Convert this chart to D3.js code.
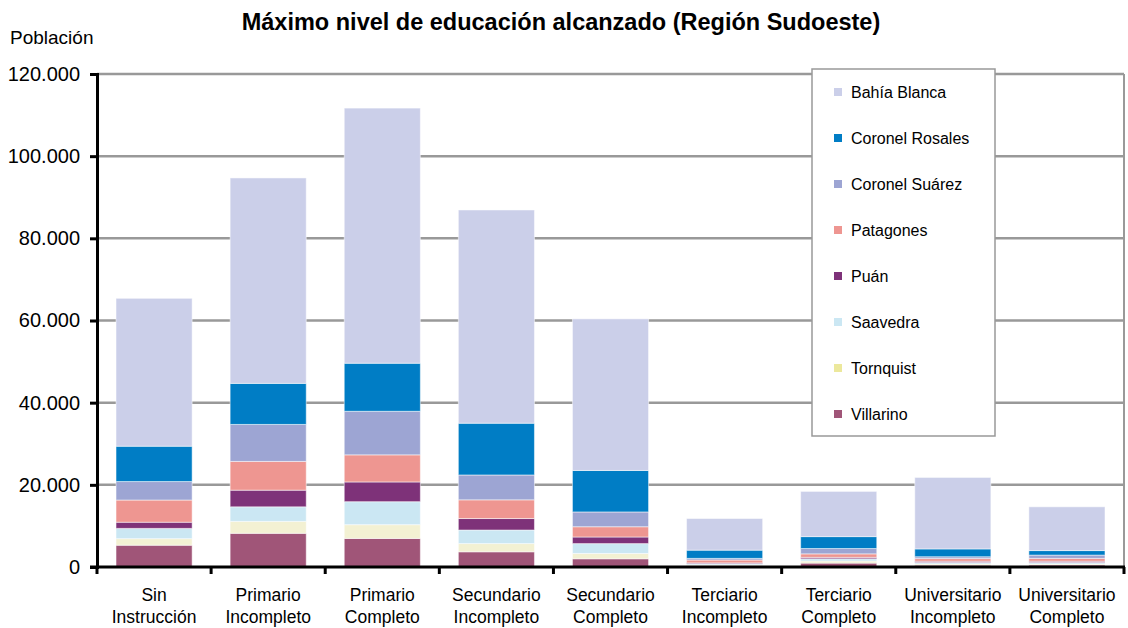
<!DOCTYPE html>
<html lang="es">
<head>
<meta charset="UTF-8">
<title>Máximo nivel de educación alcanzado</title>
<script src="https://d3js.org/d3.v7.min.js"></script>
<style>
  body { margin: 0; background: #fff; }
  svg text { font-family: "Liberation Sans", Arial, sans-serif; fill: #000; }
</style>
</head>
<body>
<svg id="chart" width="1128" height="628"></svg>
<script>
// categories (two-line labels)
const categories = [
  ["Sin", "Instrucción"],
  ["Primario", "Incompleto"],
  ["Primario", "Completo"],
  ["Secundario", "Incompleto"],
  ["Secundario", "Completo"],
  ["Terciario", "Incompleto"],
  ["Terciario", "Completo"],
  ["Universitario", "Incompleto"],
  ["Universitario", "Completo"]
];

// series, stacked from bottom to top
const seriesNames = ["Villarino", "Tornquist", "Saavedra", "Puán", "Patagones", "Coronel Suárez", "Coronel Rosales", "Bahía Blanca"];
const seriesColors = ["#a05578", "#f3f1d3", "#cbe7f3", "#7e3279", "#ee9691", "#9da5d3", "#007dc5", "#cbcfe9"];
const legendColors = ["#a05578", "#ece89c", "#cbe7f3", "#7e3279", "#ee9691", "#9da5d3", "#007dc5", "#cbcfe9"];

const villarino      = [5300, 8200, 6950, 3700, 2000, 350, 950, 450, 500];
const tornquist      = [1600, 2900, 3350, 2000, 1300, 150, 500, 300, 250];
const saavedra       = [2500, 3550, 5600, 3300, 2400, 300, 550, 350, 350];
const puan           = [1500, 4050, 4800, 2800, 1600, 200, 350, 300, 300];
const patagones      = [5400, 7000, 6600, 4550, 2500, 700, 850, 650, 700];
const coronelSuarez  = [4500, 9000, 10600, 6050, 3600, 400, 1300, 450, 800];
const coronelRosales = [8600, 10000, 11700, 12600, 10100, 2000, 2900, 1900, 1100];
const bahiaBlanca    = [36000, 50000, 62100, 51900, 36900, 7700, 11000, 17400, 10650];

const yTicks = [0, 20000, 40000, 60000, 80000, 100000, 120000];

const seriesValues = [villarino, tornquist, saavedra, puan, patagones, coronelSuarez, coronelRosales, bahiaBlanca];

// table for d3.stack
const rows = categories.map((c, i) => {
  const r = { idx: i };
  seriesNames.forEach((s, j) => r[s] = seriesValues[j][i]);
  return r;
});

const svg = d3.select("#chart");
const x0 = 97, x1 = 1124, yTop = 74, yBot = 567;

const x = d3.scaleBand()
  .domain(d3.range(categories.length))
  .range([x0, x1])
  .paddingInner(0.333)
  .paddingOuter(0.1667);
const step = (x1 - x0) / categories.length;

const y = d3.scaleLinear().domain([0, 120000]).range([yBot, yTop]);

const es = d3.formatLocale({ decimal: ",", thousands: ".", grouping: [3], currency: ["$", ""] });
const fmt = es.format(",");

// gridlines
svg.append("g").selectAll("line")
  .data(yTicks.filter(d => d > 0))
  .join("line")
  .attr("x1", x0).attr("x2", x1)
  .attr("y1", d => y(d)).attr("y2", d => y(d))
  .attr("stroke", "#999").attr("stroke-width", 2.5);

// right border
svg.append("line")
  .attr("x1", x1).attr("x2", x1).attr("y1", yTop).attr("y2", yBot)
  .attr("stroke", "#999").attr("stroke-width", 2);

// stacked bars
const stacked = d3.stack().keys(seriesNames)(rows);
svg.append("g").selectAll("g")
  .data(stacked)
  .join("g")
  .attr("fill", (d, i) => seriesColors[i])
  .selectAll("rect")
  .data(d => d)
  .join("rect")
  .attr("x", d => x(d.data.idx))
  .attr("width", x.bandwidth())
  .attr("y", d => y(d[1]))
  .attr("height", d => y(d[0]) - y(d[1]))
  .attr("stroke", "#fff").attr("stroke-opacity", 0.5).attr("stroke-width", 1);

// y axis
const yAxis = d3.axisLeft(y).tickValues(yTicks).tickFormat(fmt).tickSize(7).tickPadding(10);
const gy = svg.append("g").attr("transform", `translate(${x0},0)`).call(yAxis);
gy.select(".domain").attr("stroke", "#000").attr("stroke-width", 3);
gy.selectAll(".tick line").attr("stroke", "#000").attr("stroke-width", 3);
gy.selectAll(".tick text").attr("font-size", 20).attr("font-family", "Liberation Sans, Arial, sans-serif");

// x axis (ticks at category boundaries)
svg.append("line")
  .attr("x1", x0 - 7).attr("x2", x1 + 1).attr("y1", yBot).attr("y2", yBot)
  .attr("stroke", "#000").attr("stroke-width", 3);
svg.append("g").selectAll("line")
  .data(d3.range(categories.length + 1))
  .join("line")
  .attr("x1", i => x0 + i * step).attr("x2", i => x0 + i * step)
  .attr("y1", yBot).attr("y2", yBot + 7)
  .attr("stroke", "#000").attr("stroke-width", 3);

const labels = svg.append("g").selectAll("text")
  .data(categories)
  .join("text")
  .attr("text-anchor", "middle")
  .attr("font-size", 17.5)
  .attr("x", (d, i) => x(i) + x.bandwidth() / 2);
labels.append("tspan").attr("y", 601).attr("x", (d, i) => x(i) + x.bandwidth() / 2).text(d => d[0]);
labels.append("tspan").attr("y", 623).attr("x", (d, i) => x(i) + x.bandwidth() / 2).text(d => d[1]);

// titles
svg.append("text")
  .attr("x", 561).attr("y", 30)
  .attr("text-anchor", "middle")
  .attr("font-size", 23.5).attr("font-weight", "bold")
  .text("Máximo nivel de educación alcanzado (Región Sudoeste)");

svg.append("text")
  .attr("x", 10).attr("y", 44)
  .attr("font-size", 19)
  .text("Población");

// legend
const lg = svg.append("g");
lg.append("rect")
  .attr("x", 812).attr("y", 69).attr("width", 183).attr("height", 367)
  .attr("fill", "#fff").attr("stroke", "#999").attr("stroke-width", 1.5);
const order = d3.range(seriesNames.length).reverse();
const items = lg.selectAll("g.item")
  .data(order)
  .join("g")
  .attr("class", "item")
  .attr("transform", (d, k) => `translate(834,${92 + k * 46})`);
items.append("rect")
  .attr("x", 0).attr("y", -4).attr("width", 8).attr("height", 8)
  .attr("fill", i => legendColors[i]);
items.append("text")
  .attr("x", 17).attr("y", 5.5)
  .attr("font-size", 16)
  .text(i => seriesNames[i]);
</script>
</body>
</html>
